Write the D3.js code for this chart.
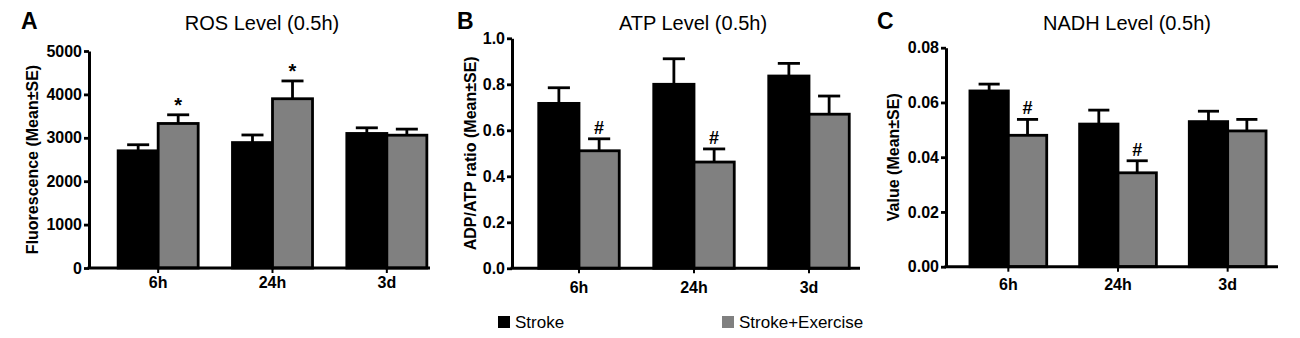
<!DOCTYPE html>
<html>
<head>
<meta charset="utf-8">
<script src="https://cdn.jsdelivr.net/npm/d3@7"></script>
<style>
  body { margin: 0; background: #fff; }
  text { font-family: "Liberation Sans", Arial, sans-serif; }
</style>
</head>
<body>
<div id="chart"></div>
<script>
// Categories and series
const groups = ["6h", "24h", "3d"];
const seriesNames = ["Stroke", "Stroke+Exercise"];

// ROS level (fluorescence)
const rosStroke = [2700, 2890, 3100];
const rosStrokeSE = [140, 175, 130];
const rosExercise = [3330, 3900, 3060];
const rosExerciseSE = [200, 410, 140];
const rosMarks = ["*", "*", ""];
const rosTicks = [0, 1000, 2000, 3000, 4000, 5000];

// ATP level (ADP/ATP ratio)
const atpStroke = [0.717, 0.80, 0.836];
const atpStrokeSE = [0.068, 0.111, 0.055];
const atpExercise = [0.511, 0.462, 0.67];
const atpExerciseSE = [0.052, 0.057, 0.079];
const atpMarks = ["#", "#", ""];
const atpTicks = [0, 0.2, 0.4, 0.6, 0.8, 1.0];

// NADH level
const nadhStroke = [0.0642, 0.0521, 0.053];
const nadhStrokeSE = [0.0025, 0.0051, 0.0038];
const nadhExercise = [0.048, 0.0343, 0.0496];
const nadhExerciseSE = [0.0058, 0.0044, 0.0042];
const nadhMarks = ["#", "#", ""];
const nadhTicks = [0, 0.02, 0.04, 0.06, 0.08];

const color = d3.scaleOrdinal().domain(seriesNames).range(["#000000", "#808080"]);

const svg = d3.select("#chart")
  .append("svg")
    .attr("width", 1300)
    .attr("height", 338);

svg.append("rect").attr("width", 1300).attr("height", 338).attr("fill", "#fff");

const panels = [
  { letter: "A", letterX: 21, title: "ROS Level (0.5h)", titleX: 262, yLabel: "Fluorescence (Mean±SE)",
    yLabelX: 38, axisX: 89, axisEnd: 430, y0: 268, y1: 51, xRange: [101, 444], xLabelDy: 20,
    ticks: rosTicks, fmt: d3.format("d"),
    mean: [rosStroke, rosExercise], se: [rosStrokeSE, rosExerciseSE], marks: rosMarks },
  { letter: "B", letterX: 457, title: "ATP Level (0.5h)", titleX: 693, yLabel: "ADP/ATP ratio (Mean±SE)",
    yLabelX: 476, axisX: 512, axisEnd: 860, y0: 268.3, y1: 38.3, xRange: [521.5, 866.5], xLabelDy: 24,
    ticks: atpTicks, fmt: d3.format(".1f"),
    mean: [atpStroke, atpExercise], se: [atpStrokeSE, atpExerciseSE], marks: atpMarks },
  { letter: "C", letterX: 877, title: "NADH Level (0.5h)", titleX: 1127, yLabel: "Value (Mean±SE)",
    yLabelX: 899, axisX: 946, axisEnd: 1278, y0: 266.7, y1: 47.7, xRange: [953.5, 1282.5], xLabelDy: 23,
    ticks: nadhTicks, fmt: d3.format(".2f"),
    mean: [nadhStroke, nadhExercise], se: [nadhStrokeSE, nadhExerciseSE], marks: nadhMarks }
];

function drawPanel(p) {
  const g = svg.append("g");

  const y = d3.scaleLinear()
    .domain([0, d3.max(p.ticks)])
    .range([p.y0, p.y1]);

  const x0 = d3.scaleBand()
    .domain(groups)
    .range(p.xRange)
    .paddingInner(0.3)
    .paddingOuter(0.15);

  const x1 = d3.scaleBand()
    .domain(seriesNames)
    .range([0, x0.bandwidth()]);

  // flatten into rows
  const rows = [];
  groups.forEach((grp, i) => {
    seriesNames.forEach((s, j) => {
      rows.push({ group: grp, series: s, value: p.mean[j][i], se: p.se[j][i], mark: j === 1 ? p.marks[i] : "" });
    });
  });

  // Error bars (upper only)
  const capW = x1.bandwidth() * 0.55;
  rows.forEach(d => {
    const cx = x0(d.group) + x1(d.series) + x1.bandwidth() / 2;
    g.append("line")
      .attr("x1", cx).attr("x2", cx)
      .attr("y1", y(d.value)).attr("y2", y(d.value + d.se))
      .attr("stroke", "#000").attr("stroke-width", 2.8);
    g.append("line")
      .attr("x1", cx - capW / 2).attr("x2", cx + capW / 2)
      .attr("y1", y(d.value + d.se)).attr("y2", y(d.value + d.se))
      .attr("stroke", "#000").attr("stroke-width", 2.8);
    if (d.mark) {
      g.append("text")
        .attr("x", cx)
        .attr("y", y(d.value + d.se) - (d.mark === "*" ? 3 : 5))
        .attr("text-anchor", "middle")
        .style("font-size", d.mark === "*" ? "20px" : "18px")
        .style("font-weight", "bold")
        .text(d.mark);
    }
  });

  // Bars
  g.selectAll("rect.bar")
    .data(rows)
    .enter()
    .append("rect")
    .attr("class", "bar")
    .attr("x", d => x0(d.group) + x1(d.series))
    .attr("y", d => y(d.value))
    .attr("width", x1.bandwidth())
    .attr("height", d => y(0) - y(d.value))
    .attr("fill", d => color(d.series))
    .attr("stroke", "#000")
    .attr("stroke-width", 2.8);

  // Y axis
  const yAxis = g.append("g")
    .attr("transform", `translate(${p.axisX},0)`)
    .call(d3.axisLeft(y).tickValues(p.ticks).tickFormat(p.fmt).tickSize(5).tickSizeOuter(0).tickPadding(2));
  yAxis.select(".domain").attr("stroke-width", 3);
  yAxis.selectAll(".tick line").attr("stroke-width", 2.8);
  yAxis.selectAll(".tick text")
    .style("font-size", "16px").style("font-weight", "bold")
    .style("font-family", "'Liberation Sans', Arial, sans-serif").attr("fill", "#000");

  // X axis
  const xAxis = g.append("g")
    .attr("transform", `translate(0,${p.y0})`)
    .call(d3.axisBottom(x0).tickSize(5).tickSizeOuter(0).tickPadding(p.xLabelDy - 16));
  xAxis.select(".domain").remove();
  xAxis.selectAll(".tick line").attr("stroke-width", 2);
  xAxis.selectAll(".tick text")
    .style("font-size", "16px").style("font-weight", "bold")
    .style("font-family", "'Liberation Sans', Arial, sans-serif").attr("fill", "#000");
  g.append("line")
    .attr("x1", p.axisX - 1.5).attr("x2", p.axisEnd)
    .attr("y1", p.y0).attr("y2", p.y0)
    .attr("stroke", "#000").attr("stroke-width", 3);

  // Y label
  g.append("text")
    .attr("transform", `translate(${p.yLabelX},${(p.y0 + p.y1) / 2}) rotate(-90)`)
    .attr("text-anchor", "middle")
    .style("font-size", "16px")
    .style("font-weight", "bold")
    .text(p.yLabel);

  // Title
  g.append("text")
    .attr("x", p.titleX)
    .attr("y", 30)
    .attr("text-anchor", "middle")
    .style("font-size", "20px")
    .text(p.title);

  // Panel letter
  g.append("text")
    .attr("x", p.letterX)
    .attr("y", 29)
    .style("font-size", "23px")
    .style("font-weight", "bold")
    .text(p.letter);
}

panels.forEach(drawPanel);

// Legend
const legendX = [498, 722];
seriesNames.forEach((s, i) => {
  svg.append("rect")
    .attr("x", legendX[i]).attr("y", 316)
    .attr("width", 12).attr("height", 12)
    .attr("fill", color(s));
  svg.append("text")
    .attr("x", legendX[i] + 17).attr("y", 328)
    .style("font-size", "17px")
    .text(s);
});
</script>
</body>
</html>
